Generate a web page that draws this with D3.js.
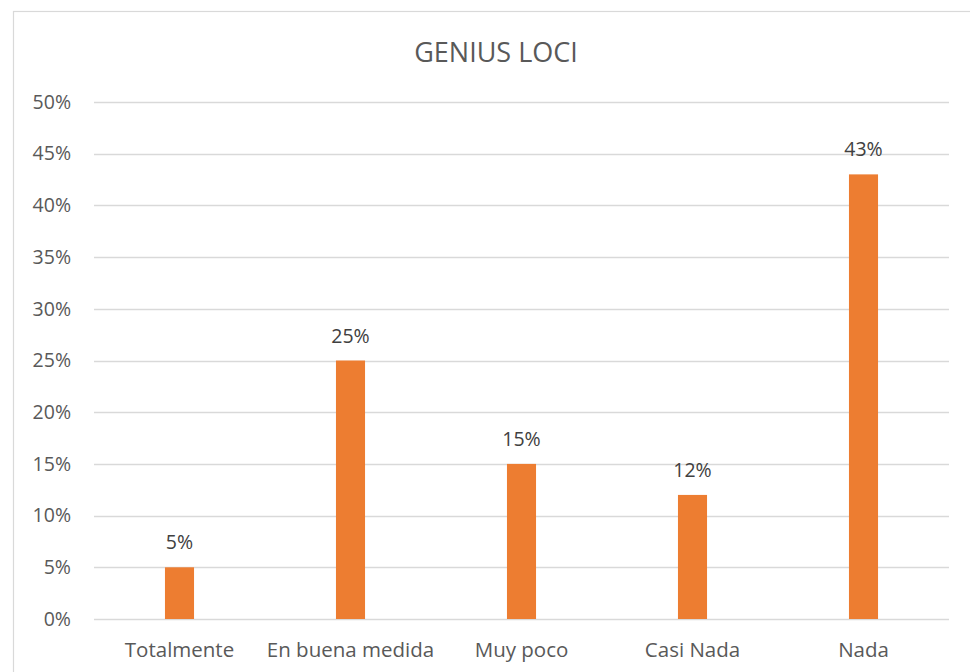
<!DOCTYPE html>
<html><head><meta charset="utf-8">
<script src="https://cdn.jsdelivr.net/npm/d3@7"></script>
<style>body{margin:0;background:#fff;}svg{display:block;}</style>
</head><body>
<script>
const categories = ["Totalmente", "En buena medida", "Muy poco", "Casi Nada", "Nada"];
const values = [0.05, 0.25, 0.15, 0.12, 0.43];
const yTicks = [0, 0.05, 0.10, 0.15, 0.20, 0.25, 0.30, 0.35, 0.40, 0.45, 0.50];
const title = "GENIUS LOCI";

const W = 970, H = 672;
const font = "'Open Sans', 'Noto Sans', sans-serif";
const svg = d3.select("body").append("svg").attr("width", W).attr("height", H);
svg.append("rect").attr("x", 13.5).attr("y", 11.5).attr("width", W + 10).attr("height", H + 10)
  .attr("fill", "#fff").attr("stroke", "#D9D9D9").attr("stroke-width", 1.2);

const x = d3.scaleBand().domain(categories).range([94, 949]).paddingInner(0.83).paddingOuter(0.415);
const y = d3.scaleLinear().domain([0, 0.5]).range([619, 102]);

const g = svg.append("g");
g.selectAll("line.grid").data(yTicks).join("line").attr("class", "grid")
  .attr("x1", 94).attr("x2", 949).attr("y1", d => Math.round(y(d)) + 0.5).attr("y2", d => Math.round(y(d)) + 0.5)
  .attr("stroke", "#D9D9D9").attr("stroke-width", 1.3);

const yAxis = d3.axisLeft(y).tickValues(yTicks).tickFormat(d3.format(".0%")).tickSize(0).tickPadding(0);
const ya = svg.append("g").attr("transform", "translate(71,0)").call(yAxis);
ya.select(".domain").remove();
ya.selectAll("text").attr("font-family", font).attr("font-size", 19.5).attr("fill", "#595959");

g.selectAll("rect.bar").data(values).join("rect").attr("class", "bar")
  .attr("x", (d, i) => x(categories[i])).attr("width", x.bandwidth())
  .attr("y", d => y(d)).attr("height", d => y(0) - y(d)).attr("fill", "#ED7D31");

g.selectAll("text.lab").data(values).join("text").attr("class", "lab")
  .attr("x", (d, i) => x(categories[i]) + x.bandwidth() / 2).attr("y", d => y(d) - 18)
  .attr("text-anchor", "middle").attr("font-family", font).attr("font-size", 19.5).attr("fill", "#404040")
  .text(d => d3.format(".0%")(d));

const xAxis = d3.axisBottom(x).tickSize(0).tickPadding(0);
const xa = svg.append("g").attr("transform", "translate(0,642)").call(xAxis);
xa.select(".domain").remove();
xa.selectAll("text").attr("font-family", font).attr("font-size", 20.5).attr("fill", "#595959").attr("dy", "0.71em");

svg.append("text").attr("x", 496).attr("y", 62).attr("text-anchor", "middle")
  .attr("font-family", font).attr("font-size", 27).attr("fill", "#595959").text(title);
</script>
</body></html>
